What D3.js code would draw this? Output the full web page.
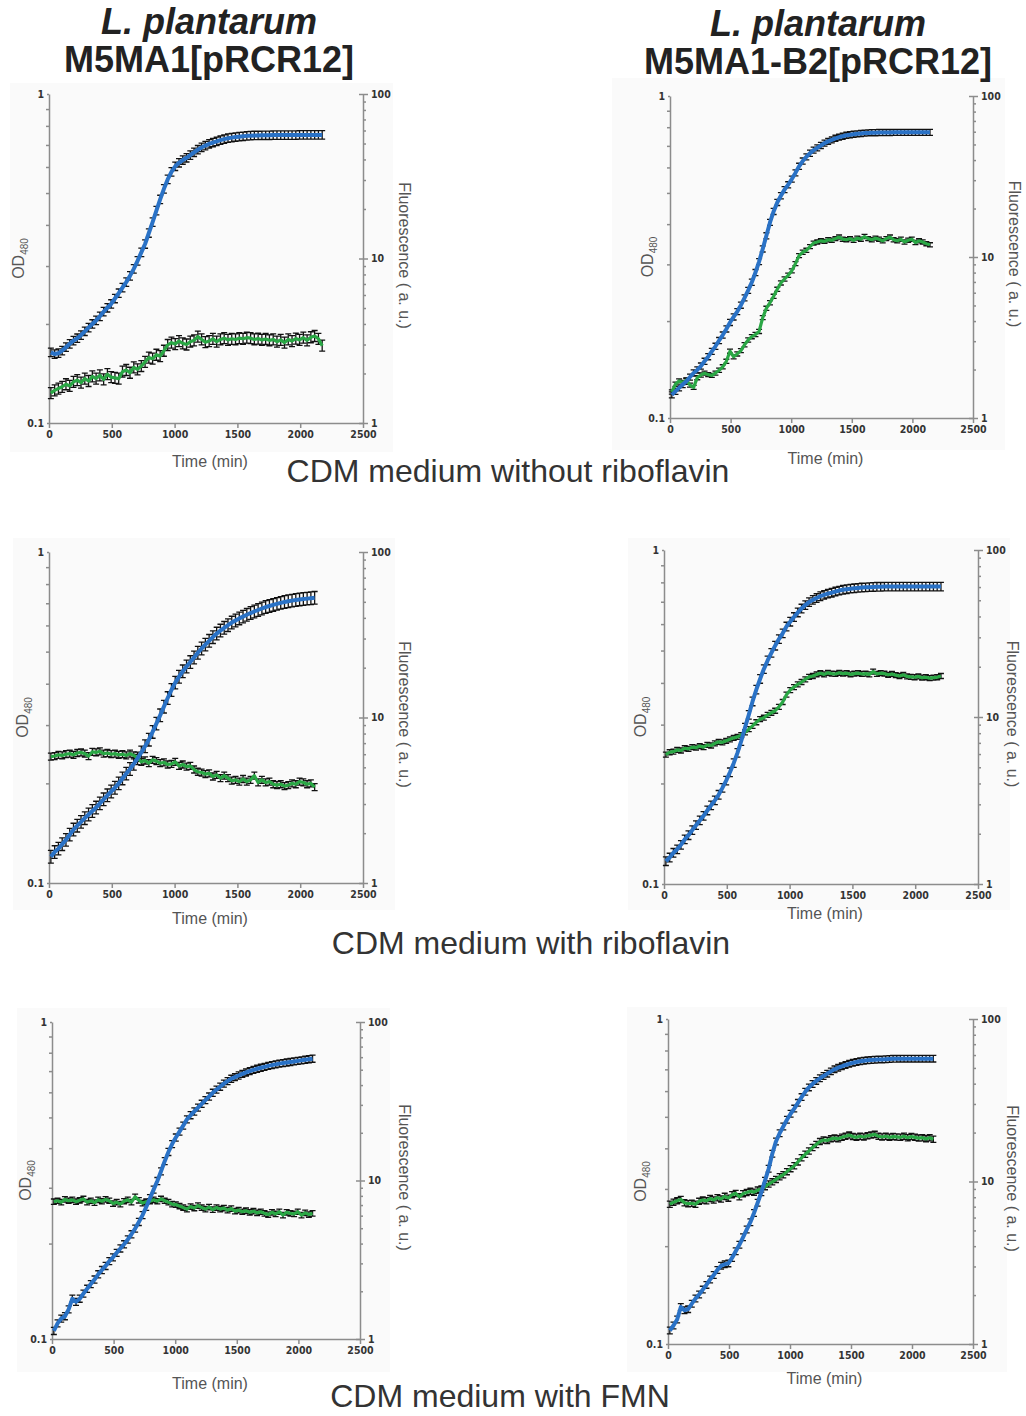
<!DOCTYPE html>
<html lang="en">
<head>
<meta charset="UTF-8" />
<title>L. plantarum growth and fluorescence in CDM</title>
<style>
  html, body { margin: 0; padding: 0; background: #fff; }
  svg { display: block; font-family: "Liberation Sans", Arial, sans-serif; }
  .axis path, .axis line { stroke: #8c8c8c; stroke-width: 1.5px; }
  .axis text {
    font-family: "Liberation Sans Narrow", "DejaVu Sans Condensed", "Liberation Sans", sans-serif;
    font-size: 10.5px; font-weight: bold; fill: #333;
  }
  .bg { fill: #fafafa; }
  .err { stroke: #111; stroke-width: 1.3px; fill: none; }
  .od-line { fill: none; stroke: #2a72c6; stroke-width: 4px; stroke-linejoin: round; }
  .fl-line { fill: none; stroke: #2aa745; stroke-width: 3.2px; stroke-linejoin: round; }
  .title { font-weight: bold; font-size: 36px; fill: #222; text-anchor: middle; }
  .cond { font-size: 32px; fill: #333; text-anchor: middle; }
  .lab { font-size: 16px; fill: #555; text-anchor: middle; }
</style>
</head>
<body>
<svg width="1026" height="1416"></svg>

<script src="https://d3js.org/d3.v7.min.js"></script>
<script>
// sampling times (min)
const TIME = [15, 45, 75, 105, 135, 165, 195, 225, 255, 285, 315, 345, 375, 405, 435, 465, 495, 525, 555, 585,
  615, 645, 675, 705, 735, 765, 795, 825, 855, 885, 915, 945, 975, 1005, 1035, 1065, 1095, 1125, 1155, 1185,
  1215, 1245, 1275, 1305, 1335, 1365, 1395, 1425, 1455, 1485, 1515, 1545, 1575, 1605, 1635, 1665, 1695, 1725,
  1755, 1785, 1815, 1845, 1875, 1905, 1935, 1965, 1995, 2025, 2055, 2085, 2115, 2145, 2175, 2205];

const strains = ["M5MA1[pRCR12]", "M5MA1-B2[pRCR12]"];
const conditions = ["CDM medium without riboflavin", "CDM medium with riboflavin", "CDM medium with FMN"];

const timeTicks = [0, 500, 1000, 1500, 2000, 2500];
const odTicks = [0.1, 1];
const odMinor = [0.2, 0.3, 0.4, 0.5, 0.6, 0.7, 0.8, 0.9];
const flTicks = [1, 10, 100];
const flMinor = [2, 3, 4, 5, 6, 7, 8, 9, 20, 30, 40, 50, 60, 70, 80, 90];

// --- without riboflavin ---
const odWT_noRib = [0.164, 0.162, 0.163, 0.166, 0.170, 0.174, 0.178, 0.181, 0.185, 0.190,
  0.195, 0.200, 0.205, 0.211, 0.218, 0.224, 0.230, 0.239, 0.248, 0.258,
  0.268, 0.280, 0.294, 0.311, 0.330, 0.350, 0.378, 0.408, 0.442, 0.478,
  0.515, 0.550, 0.580, 0.603, 0.618, 0.630, 0.640, 0.652, 0.665, 0.677,
  0.688, 0.697, 0.705, 0.712, 0.718, 0.724, 0.729, 0.734, 0.737, 0.740,
  0.742, 0.744, 0.746, 0.747, 0.748, 0.748, 0.749, 0.749, 0.749, 0.750,
  0.750, 0.750, 0.750, 0.750, 0.750, 0.750, 0.751, 0.751, 0.751, 0.751,
  0.751, 0.751, 0.751];
const flWT_noRib = [1.52, 1.58, 1.62, 1.66, 1.72, 1.68, 1.78, 1.82, 1.76, 1.86,
  1.80, 1.92, 1.86, 1.95, 1.84, 1.98, 1.90, 1.88, 1.86, 2.05,
  2.10, 2.02, 2.18, 2.12, 2.22, 2.35, 2.50, 2.46, 2.60, 2.55,
  2.75, 2.98, 3.08, 3.02, 3.15, 3.05, 3.00, 3.12, 3.18, 3.35,
  3.22, 3.10, 3.15, 3.25, 3.12, 3.22, 3.28, 3.20, 3.25, 3.22,
  3.28, 3.25, 3.30, 3.28, 3.22, 3.26, 3.20, 3.24, 3.18, 3.22,
  3.12, 3.20, 3.08, 3.22, 3.15, 3.26, 3.20, 3.30, 3.18, 3.32,
  3.38, 3.25, 2.95];
const odB2_noRib = [0.118, 0.121, 0.124, 0.127, 0.130, 0.134, 0.138, 0.141, 0.145, 0.150,
  0.155, 0.161, 0.167, 0.174, 0.181, 0.189, 0.198, 0.206, 0.214, 0.224,
  0.236, 0.249, 0.264, 0.283, 0.306, 0.335, 0.368, 0.405, 0.438, 0.467,
  0.490, 0.512, 0.530, 0.552, 0.577, 0.605, 0.628, 0.647, 0.664, 0.679,
  0.690, 0.702, 0.714, 0.723, 0.731, 0.739, 0.745, 0.750, 0.755, 0.758,
  0.761, 0.763, 0.765, 0.767, 0.768, 0.769, 0.769, 0.770, 0.770, 0.770,
  0.770, 0.771, 0.771, 0.771, 0.771, 0.771, 0.771, 0.771, 0.771, 0.771,
  0.771, 0.771];
const flB2_noRib = [1.45, 1.62, 1.70, 1.66, 1.72, 1.60, 1.55, 1.78, 1.85, 1.90,
  1.86, 1.84, 1.90, 1.98, 2.08, 2.25, 2.60, 2.40, 2.50, 2.62,
  2.85, 3.05, 3.20, 3.30, 3.45, 4.20, 4.80, 5.20, 5.70, 6.30,
  6.90, 7.30, 7.70, 8.20, 9.10, 10.2, 10.7, 11.0, 11.6, 12.2,
  12.4, 12.6, 12.5, 12.8, 12.7, 13.0, 13.3, 12.9, 12.8, 13.0,
  12.7, 13.1, 12.9, 13.4, 13.0, 12.8, 13.1, 12.9, 12.6, 13.0,
  13.3, 12.8, 12.6, 12.9, 12.4, 12.7, 12.9, 12.3, 12.6, 12.4,
  12.1, 11.9];

// --- with riboflavin ---
const odWT_rib = [0.120, 0.124, 0.127, 0.131, 0.135, 0.140, 0.145, 0.149, 0.153, 0.157,
  0.161, 0.165, 0.169, 0.174, 0.179, 0.184, 0.189, 0.194, 0.200, 0.207,
  0.214, 0.221, 0.229, 0.238, 0.248, 0.259, 0.271, 0.286, 0.303, 0.321,
  0.341, 0.362, 0.383, 0.403, 0.420, 0.436, 0.451, 0.465, 0.480, 0.496,
  0.511, 0.525, 0.539, 0.553, 0.567, 0.579, 0.590, 0.601, 0.612, 0.621,
  0.630, 0.638, 0.646, 0.654, 0.661, 0.668, 0.675, 0.682, 0.687, 0.692,
  0.697, 0.702, 0.706, 0.710, 0.713, 0.716, 0.719, 0.721, 0.723, 0.725,
  0.727];
const flWT_rib = [5.80, 5.85, 5.95, 5.90, 6.00, 6.05, 5.95, 6.10, 6.15, 6.05,
  5.85, 6.20, 6.15, 6.25, 6.05, 6.10, 6.00, 6.05, 5.95, 6.00,
  5.90, 6.05, 5.90, 5.70, 5.40, 5.50, 5.30, 5.55, 5.45, 5.30,
  5.35, 5.20, 5.25, 5.40, 5.10, 5.20, 5.05, 5.10, 4.85, 4.70,
  4.65, 4.55, 4.60, 4.40, 4.50, 4.30, 4.45, 4.30, 4.15, 4.20,
  4.10, 4.25, 4.10, 4.20, 4.45, 4.05, 4.20, 4.05, 4.10, 3.95,
  3.90, 3.95, 3.85, 3.90, 4.00, 3.95, 4.10, 4.05, 3.95, 4.00,
  3.80];
const odB2_rib = [0.117, 0.120, 0.124, 0.127, 0.131, 0.136, 0.140, 0.145, 0.150, 0.155,
  0.160, 0.166, 0.172, 0.178, 0.185, 0.194, 0.204, 0.216, 0.230, 0.247,
  0.268, 0.294, 0.321, 0.352, 0.382, 0.411, 0.440, 0.467, 0.492, 0.517,
  0.541, 0.563, 0.590, 0.610, 0.630, 0.650, 0.668, 0.684, 0.698, 0.709,
  0.718, 0.727, 0.734, 0.740, 0.745, 0.751, 0.756, 0.760, 0.763, 0.766,
  0.768, 0.770, 0.772, 0.773, 0.774, 0.775, 0.776, 0.776, 0.777, 0.777,
  0.777, 0.777, 0.777, 0.777, 0.777, 0.777, 0.777, 0.777, 0.777, 0.777,
  0.777, 0.777, 0.777, 0.777];
const flB2_rib = [5.95, 6.15, 6.20, 6.35, 6.30, 6.50, 6.45, 6.60, 6.55, 6.70,
  6.60, 6.80, 6.75, 6.95, 7.10, 7.05, 7.20, 7.35, 7.50, 7.60,
  7.80, 8.10, 8.45, 8.85, 9.30, 9.70, 9.90, 10.3, 10.6, 10.9,
  11.5, 12.3, 13.6, 14.5, 15.1, 15.7, 16.2, 16.8, 17.4, 17.6,
  18.0, 18.3, 18.0, 18.4, 18.2, 18.1, 18.4, 18.2, 18.3, 18.0,
  18.2, 18.3, 18.1, 18.2, 18.0, 18.7, 18.1, 18.3, 18.2, 17.9,
  18.1, 17.8, 17.6, 17.9, 17.5, 17.4, 17.3, 17.5, 17.2, 17.3,
  17.1, 17.2, 17.3, 17.6];

// --- with FMN ---
const odWT_fmn = [0.106, 0.112, 0.116, 0.118, 0.124, 0.134, 0.131, 0.134, 0.139, 0.144,
  0.149, 0.154, 0.160, 0.165, 0.170, 0.176, 0.181, 0.187, 0.193, 0.199,
  0.206, 0.214, 0.223, 0.234, 0.246, 0.261, 0.278, 0.296, 0.315, 0.338,
  0.364, 0.389, 0.412, 0.432, 0.451, 0.471, 0.493, 0.508, 0.522, 0.537,
  0.552, 0.567, 0.582, 0.598, 0.612, 0.625, 0.639, 0.651, 0.662, 0.670,
  0.678, 0.686, 0.693, 0.700, 0.706, 0.712, 0.717, 0.722, 0.727, 0.731,
  0.735, 0.739, 0.742, 0.745, 0.748, 0.751, 0.754, 0.757, 0.760, 0.763,
  0.766];
const flWT_fmn = [7.35, 7.45, 7.30, 7.60, 7.45, 7.55, 7.35, 7.50, 7.65, 7.30,
  7.45, 7.25, 7.55, 7.40, 7.60, 7.45, 7.15, 7.30, 7.10, 7.40,
  7.55, 7.30, 7.90, 7.50, 7.20, 7.35, 7.40, 7.55, 7.40, 7.65,
  7.45, 7.30, 7.10, 7.05, 6.90, 6.75, 6.60, 6.85, 6.70, 6.95,
  6.75, 6.60, 6.80, 6.55, 6.75, 6.60, 6.70, 6.50, 6.65, 6.40,
  6.50, 6.35, 6.45, 6.30, 6.40, 6.25, 6.35, 6.20, 6.10, 6.30,
  6.15, 6.35, 6.05, 6.30, 6.20, 6.15, 6.35, 6.05, 6.25, 6.10,
  6.20];
const odB2_fmn = [0.110, 0.114, 0.119, 0.130, 0.127, 0.128, 0.133, 0.138, 0.142, 0.147,
  0.152, 0.158, 0.163, 0.169, 0.174, 0.176, 0.177, 0.184, 0.193, 0.202,
  0.213, 0.225, 0.237, 0.253, 0.272, 0.293, 0.318, 0.346, 0.385, 0.420,
  0.445, 0.467, 0.490, 0.511, 0.530, 0.552, 0.575, 0.597, 0.616, 0.631,
  0.645, 0.657, 0.668, 0.679, 0.690, 0.700, 0.708, 0.715, 0.722, 0.728,
  0.733, 0.737, 0.741, 0.744, 0.746, 0.748, 0.749, 0.750, 0.751, 0.752,
  0.753, 0.754, 0.754, 0.755, 0.755, 0.755, 0.755, 0.755, 0.755, 0.755,
  0.755, 0.755, 0.755];
const flB2_fmn = [7.25, 7.45, 7.60, 7.75, 7.40, 7.30, 7.35, 7.25, 7.55, 7.70,
  7.60, 7.85, 7.70, 7.95, 7.80, 8.10, 7.90, 8.30, 8.45, 8.05,
  8.40, 8.55, 8.70, 8.60, 8.85, 9.00, 9.30, 9.65, 9.95, 10.3,
  10.7, 11.0, 11.5, 12.0, 12.5, 13.2, 14.0, 14.7, 15.4, 16.2,
  16.9, 17.6, 18.0, 17.9, 18.3, 18.5, 18.3, 18.7, 19.0, 19.3,
  18.9, 18.7, 19.0, 18.8, 19.1, 19.3, 19.5, 19.0, 18.8, 19.0,
  18.7, 18.9, 18.8, 18.7, 19.0, 18.6, 18.9, 18.7, 18.5, 18.6,
  18.3, 18.6, 18.2];

// estimated relative SD of the replicates (error bars)
const odErr = [0.03, 0.022, 0.045, 0.03, 0.026, 0.024];
const flErr = [0.08, 0.03, 0.05, 0.035, 0.04, 0.045];

const odSeries = [odWT_noRib, odB2_noRib, odWT_rib, odB2_rib, odWT_fmn, odB2_fmn];
const flSeries = [flWT_noRib, flB2_noRib, flWT_rib, flB2_rib, flWT_fmn, flB2_fmn];

// panel layout (plot box, background box, label spots)
const panels = [
  { x0: 49,  x1: 363, y0: 94,   y1: 423,  bg: [10, 83, 383, 369],   odX: 18,  flX: 405,  timeY: 467 },
  { x0: 670, x1: 973, y0: 96,   y1: 418,  bg: [612, 78, 393, 372],  odX: 647, flX: 1015, timeY: 464 },
  { x0: 49,  x1: 363, y0: 552,  y1: 883,  bg: [13, 538, 382, 372],  odX: 22,  flX: 405,  timeY: 924 },
  { x0: 664, x1: 978, y0: 550,  y1: 884,  bg: [628, 538, 382, 372], odX: 640, flX: 1013, timeY: 919 },
  { x0: 52,  x1: 360, y0: 1022, y1: 1339, bg: [17, 1008, 373, 364], odX: 25,  flX: 405,  timeY: 1389 },
  { x0: 668, x1: 973, y0: 1019, y1: 1344, bg: [627, 1007, 380, 365], odX: 640, flX: 1013, timeY: 1384 }
];

const svg = d3.select("svg");

function errorBars(g, xs, ys, values, rel) {
  const cap = 3;
  g.append("path")
    .attr("class", "err")
    .attr("d", values.map((v, i) => {
      const x = xs(TIME[i]);
      const hi = ys(v * (1 + rel));
      const lo = ys(v / (1 + rel));
      return `M${x - cap},${hi}H${x + cap}M${x},${hi}V${lo}M${x - cap},${lo}H${x + cap}`;
    }).join(""));
}

panels.forEach((p, i) => {
  const x = d3.scaleLinear().domain([0, 2500]).range([p.x0, p.x1]);
  const yOD = d3.scaleLog().domain([0.1, 1]).range([p.y1, p.y0]);
  const yFL = d3.scaleLog().domain([1, 100]).range([p.y1, p.y0]);

  const g = svg.append("g");

  g.append("rect").attr("class", "bg")
    .attr("x", p.bg[0]).attr("y", p.bg[1]).attr("width", p.bg[2]).attr("height", p.bg[3]);

  // left axis
  g.append("g").attr("class", "axis")
    .attr("transform", `translate(${p.x0},0)`)
    .call(d3.axisLeft(yOD).tickValues(odMinor).tickSize(3).tickSizeOuter(0).tickFormat(""));
  g.append("g").attr("class", "axis")
    .attr("transform", `translate(${p.x0},0)`)
    .call(d3.axisLeft(yOD).tickValues(odTicks).tickSize(2).tickPadding(3).tickFormat(d => d === 1 ? "1" : "0.1"))
    .call(a => a.select(".domain").remove());

  // right axis
  g.append("g").attr("class", "axis")
    .attr("transform", `translate(${p.x1},0)`)
    .call(d3.axisRight(yFL).tickValues(flMinor).tickSize(3).tickSizeOuter(0).tickFormat(""));
  g.append("g").attr("class", "axis")
    .attr("transform", `translate(${p.x1},0)`)
    .call(d3.axisRight(yFL).tickValues(flTicks).tickSize(5).tickPadding(3).tickFormat(d3.format("d")))
    .call(a => a.select(".domain").remove());
  g.append("g").attr("class", "axis")
    .attr("transform", `translate(${p.x1},0)`)
    .call(d3.axisLeft(yFL).tickValues(flTicks).tickSize(4).tickFormat(""))
    .call(a => a.select(".domain").remove());

  // bottom axis
  g.append("g").attr("class", "axis")
    .attr("transform", `translate(0,${p.y1})`)
    .call(d3.axisBottom(x).tickValues(timeTicks).tickSize(5).tickSizeOuter(0).tickPadding(3)
      .tickFormat(d3.format("d")));

  // data: error bars under the lines
  const od = odSeries[i], fl = flSeries[i];
  errorBars(g, x, yFL, fl, flErr[i]);
  errorBars(g, x, yOD, od, odErr[i]);

  g.append("path").attr("class", "fl-line")
    .attr("d", d3.line().x((d, k) => x(TIME[k])).y(d => yFL(d))(fl));
  g.append("path").attr("class", "od-line")
    .attr("d", d3.line().x((d, k) => x(TIME[k])).y(d => yOD(d))(od));

  // axis titles
  const midY = (p.y0 + p.y1) / 2;
  g.append("text").attr("class", "lab")
    .attr("x", (p.x0 + p.x1) / 2 + 4).attr("y", p.timeY)
    .text("Time (min)");

  const odLab = g.append("text").attr("class", "lab")
    .attr("transform", `translate(${p.odX + 6},${midY}) rotate(-90)`);
  odLab.append("tspan").text("OD");
  odLab.append("tspan").attr("font-size", "10px").attr("dy", 4).text("480");

  g.append("text").attr("class", "lab")
    .attr("transform", `translate(${p.flX - 6},${midY - 3}) rotate(90)`)
    .text("Fluorescence ( a. u.)");
});

// strain headers
const headX = [209, 818];
strains.forEach((s, c) => {
  svg.append("text").attr("class", "title")
    .attr("x", headX[c]).attr("y", 34 + c * 2)
    .style("font-style", "italic")
    .text("L. plantarum");
  svg.append("text").attr("class", "title")
    .attr("x", headX[c]).attr("y", 72 + c * 2)
    .text(s);
});

// condition captions
const condPos = [[508, 482], [531, 954], [500, 1407]];
conditions.forEach((c, r) => {
  svg.append("text").attr("class", "cond")
    .attr("x", condPos[r][0]).attr("y", condPos[r][1])
    .text(c);
});
</script>
</body>
</html>
